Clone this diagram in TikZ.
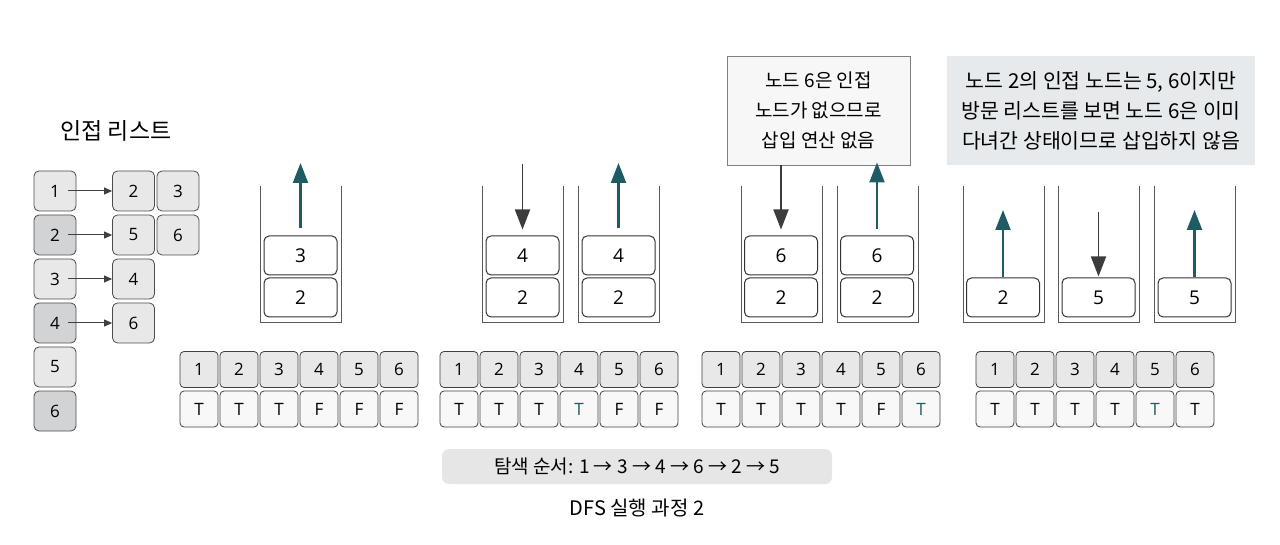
\documentclass[tikz,border=0pt]{standalone}
\usepackage{fontspec}
\setmainfont{Noto Sans CJK KR}
\newfontfamily\cellfont{Open Sans}
\usetikzlibrary{arrows.meta}
\definecolor{cellgray}{HTML}{E8E8E8}
\definecolor{celldark}{HTML}{D2D3D4}
\definecolor{flagwhite}{HTML}{F8F8F8}
\definecolor{stackteal}{HTML}{1E5B63}
\definecolor{pushgray}{HTML}{3C3C3C}
\definecolor{infogray}{HTML}{E6EAEC}
\definecolor{ordergray}{HTML}{E6E6E6}
\begin{document}
\begin{tikzpicture}[x=1pt,y=-1pt,
	listcell/.style={draw=black!70,line width=0.8pt,rounded corners=5pt,minimum width=42pt,minimum height=40pt,inner sep=0pt,fill=cellgray,font=\cellfont\fontsize{17}{17}\selectfont},
	idxcell/.style={draw=black!75,line width=0.8pt,rounded corners=4pt,minimum width=38pt,minimum height=36pt,inner sep=0pt,fill=cellgray,font=\cellfont\fontsize{17}{17}\selectfont},
	flagcell/.style={idxcell,fill=flagwhite},
	stackbox/.style={draw=black!80,line width=1pt,rounded corners=5pt,minimum width=73pt,minimum height=39pt,inner sep=0pt,fill=white,font=\cellfont\fontsize{19}{19}\selectfont},
	wall/.style={draw=black!65,line width=0.9pt},
	poparrow/.style={draw=stackteal,line width=2.2pt,-{Triangle[length=20pt,width=15pt]}},
	pusharrow/.style={draw=pushgray,line width=1.8pt,-{Triangle[length=20pt,width=15pt]}},
	listarrow/.style={draw=black!75,line width=1pt,-{Triangle[length=8pt,width=7pt]}}]
	\useasboundingbox (0,0) rectangle (1280,545);
	%adjacency list
	\node[font=\fontsize{23}{23}\selectfont] (title) at (116,131) {인접 리스트};
	\foreach \f [count=\i] in {cellgray,celldark,cellgray,celldark,cellgray,celldark}
	\node[listcell,fill=\f] (l\i) at (55,191+44*\i-44) {\i};
	\node[listcell] (n1a) at (133.5,191) {2};
	\node[listcell] (n1b) at (178,191) {3};
	\node[listcell] (n2a) at (133.5,235) {5};
	\node[listcell] (n2b) at (178,235) {6};
	\node[listcell] (n3a) at (133.5,279) {4};
	\node[listcell] (n4a) at (133.5,323) {6};
	\foreach \i in {1,...,4}
	\draw[listarrow] ([xshift=13pt]l\i.center) -- (n\i a.west);
	%stacks
	\foreach \x in {260,482,578,741,837,963,1058,1154}
	\draw[wall] (\x,186) -- (\x,322) -- (\x+81,322) -- (\x+81,186);
	\node[stackbox] (p1a) at (300.5,255.5) {3};
	\node[stackbox] (p1b) at (300.5,297.5) {2};
	\node[stackbox] (p2a) at (522.5,255.5) {4};
	\node[stackbox] (p2b) at (522.5,297.5) {2};
	\node[stackbox] (p3a) at (618.5,255.5) {4};
	\node[stackbox] (p3b) at (618.5,297.5) {2};
	\node[stackbox] (p4a) at (781,255.5) {6};
	\node[stackbox] (p4b) at (781,297.5) {2};
	\node[stackbox] (p5a) at (877,255.5) {6};
	\node[stackbox] (p5b) at (877,297.5) {2};
	\node[stackbox] (p6b) at (1003,297.5) {2};
	\node[stackbox] (p7b) at (1098.5,297.5) {5};
	\node[stackbox] (p8b) at (1194.5,297.5) {5};
	%notes
	\node[draw=black!50,fill=white!97!black,line width=0.9pt,minimum width=183pt,minimum height=109pt,align=center,font=\fontsize{19}{30}\selectfont] (note) at (818.5,110.5) {노드 6은 인접\\노드가 없으므로\\삽입 연산 없음};
	\node[fill=infogray,minimum width=308pt,minimum height=109pt,align=center,font=\fontsize{20.5}{30}\selectfont] (info) at (1101,110.5) {노드 2의 인접 노드는 5, 6이지만\\방문 리스트를 보면 노드 6은 이미\\다녀간 상태이므로 삽입하지 않음};
	%arrows
	\coordinate (t1) at (300.5,163);
	\coordinate (h2) at (522.5,164);
	\coordinate (t3) at (618.5,163);
	\coordinate (t6) at (1003,210);
	\coordinate (h7) at (1098.5,212);
	\coordinate (t8) at (1194.5,210);
	\draw[poparrow,shorten <=7pt] (p1a.north) -- (t1);
	\draw[pusharrow,shorten >=6pt] (h2) -- (p2a.north);
	\draw[poparrow,shorten <=7pt] (p3a.north) -- (t3);
	\draw[pusharrow,shorten >=6pt] (note.south -| p4a) -- (p4a.north);
	\draw[poparrow,shorten <=6pt,shorten >=-3pt] (p5a.north) -- (note.south -| p5a);
	\draw[poparrow] (p6b.north) -- (t6);
	\draw[pusharrow,shorten >=1pt] (h7) -- (p7b.north);
	\draw[poparrow] (p8b.north) -- (t8);
	%visited lists
	\foreach \sx [count=\g] in {199,459,721,995}
	\foreach \i in {1,...,6}
	\node[idxcell] (v\g-\i) at (\sx+40*\i-40,369.5) {\i};
	\foreach \f/\c [count=\i] in {T/black,T/black,T/black,F/black,F/black,F/black}
	\node[flagcell,text=\c] (f1-\i) at (159+40*\i,409) {\f};
	\foreach \f/\c [count=\i] in {T/black,T/black,T/black,T/stackteal,F/black,F/black}
	\node[flagcell,text=\c] (f2-\i) at (419+40*\i,409) {\f};
	\foreach \f/\c [count=\i] in {T/black,T/black,T/black,T/black,F/black,T/stackteal}
	\node[flagcell,text=\c] (f3-\i) at (681+40*\i,409) {\f};
	\foreach \f/\c [count=\i] in {T/black,T/black,T/black,T/black,T/stackteal,T/black}
	\node[flagcell,text=\c] (f4-\i) at (955+40*\i,409) {\f};
	%order and caption
	\node[fill=ordergray,rounded corners=7pt,minimum width=390pt,minimum height=35pt,font=\fontsize{19}{19}\selectfont] (order) at (637,466.5) {탐색 순서: 1 → 3 → 4 → 6 → 2 → 5};
	\node[font=\fontsize{20}{20}\selectfont] (caption) at (637,508) {DFS 실행 과정 2};
\end{tikzpicture}
\end{document}
